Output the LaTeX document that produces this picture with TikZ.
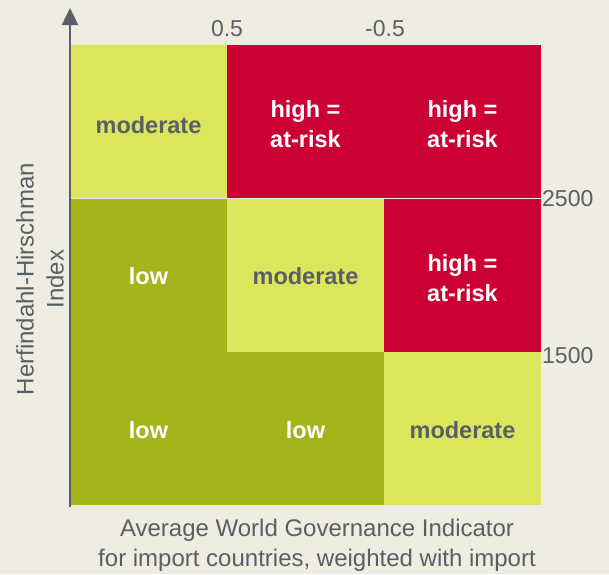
\documentclass[tikz,border=0pt]{standalone}
\usepackage{fontspec}
\setmainfont{Liberation Sans}
\usetikzlibrary{arrows.meta}
\definecolor{bg}{HTML}{EFECE1}
\definecolor{lightgreen}{HTML}{DCE65D}
\definecolor{olive}{HTML}{A6B41C}
\definecolor{riskred}{HTML}{CC0033}
\definecolor{ink}{HTML}{5A5F66}
\begin{document}
\begin{tikzpicture}[x=1pt,y=-1pt,
  cell/.style={minimum width=157pt,minimum height=153pt,inner sep=0pt,outer sep=0pt,
    anchor=north west},
  modcell/.style={cell,fill=lightgreen},
  lowcell/.style={cell,fill=olive},
  highcell/.style={cell,fill=riskred},
  celltext/.style={align=center,inner sep=0pt,font=\fontsize{23.5}{30}\selectfont\bfseries},
  modtext/.style={celltext,text=ink},
  whitetext/.style={celltext,text=white},
  tick/.style={text=ink,font=\fontsize{23}{28}\selectfont,inner sep=0pt},
  axistitle/.style={text=ink,font=\fontsize{24}{30}\selectfont,align=center,inner sep=0pt},
  axis/.style={draw=ink,line width=2.5pt,-{Triangle[width=16pt,length=17pt]}}]
\fill[bg] (0,0) rectangle (609,574);
\useasboundingbox (0,0) rectangle (609,574);
% risk matrix
\node[modcell]  (c11) at (70,45)  {};
\node[highcell] (c12) at (227,45) {};
\node[highcell] (c13) at (384,45) {};
\node[lowcell]  (c21) at (70,199) {};
\node[modcell]  (c22) at (227,199) {};
\node[highcell] (c23) at (384,199) {};
\node[lowcell]  (c31) at (70,352) {};
\node[lowcell]  (c32) at (227,352) {};
\node[modcell]  (c33) at (384,352) {};
% cell labels
\node[modtext]   (l11) at ([yshift=-4pt]c11.center) {moderate};
\node[whitetext] (l12) at ([yshift=-3pt]c12.center) {high =\\at-risk};
\node[whitetext] (l13) at ([yshift=-3pt]c13.center) {high =\\at-risk};
\node[whitetext] (l21) at ([yshift=-1pt]c21.center) {low};
\node[modtext]   (l22) at ([yshift=-1pt]c22.center) {moderate};
\node[whitetext] (l23) at ([yshift=-3pt]c23.center) {high =\\at-risk};
\node[whitetext] (l31) at ([yshift=-2pt]c31.center) {low};
\node[whitetext] (l32) at ([yshift=-2pt]c32.center) {low};
\node[modtext]   (l33) at ([yshift=-2pt]c33.center) {moderate};
% vertical axis
\coordinate (ybot) at (70,507);
\coordinate (ytop) at (70,8);
\draw[axis] (ybot) -- (ytop);
% thresholds
\node[tick,anchor=base] (t05) at (227,36) {0.5};
\node[tick,anchor=base] (tm05) at (385,36) {-0.5};
\node[tick,anchor=west] (t2500) at (542,199) {2500};
\node[tick,anchor=west] (t1500) at (542,356) {1500};
% axis titles
\node[axistitle,rotate=90] (ylab) at (40,279) {Herfindahl-Hirschman\\Index};
\node[axistitle,anchor=north] (xlab) at (317,519) {Average World Governance Indicator\\for import countries, weighted with import};
\end{tikzpicture}
\end{document}
